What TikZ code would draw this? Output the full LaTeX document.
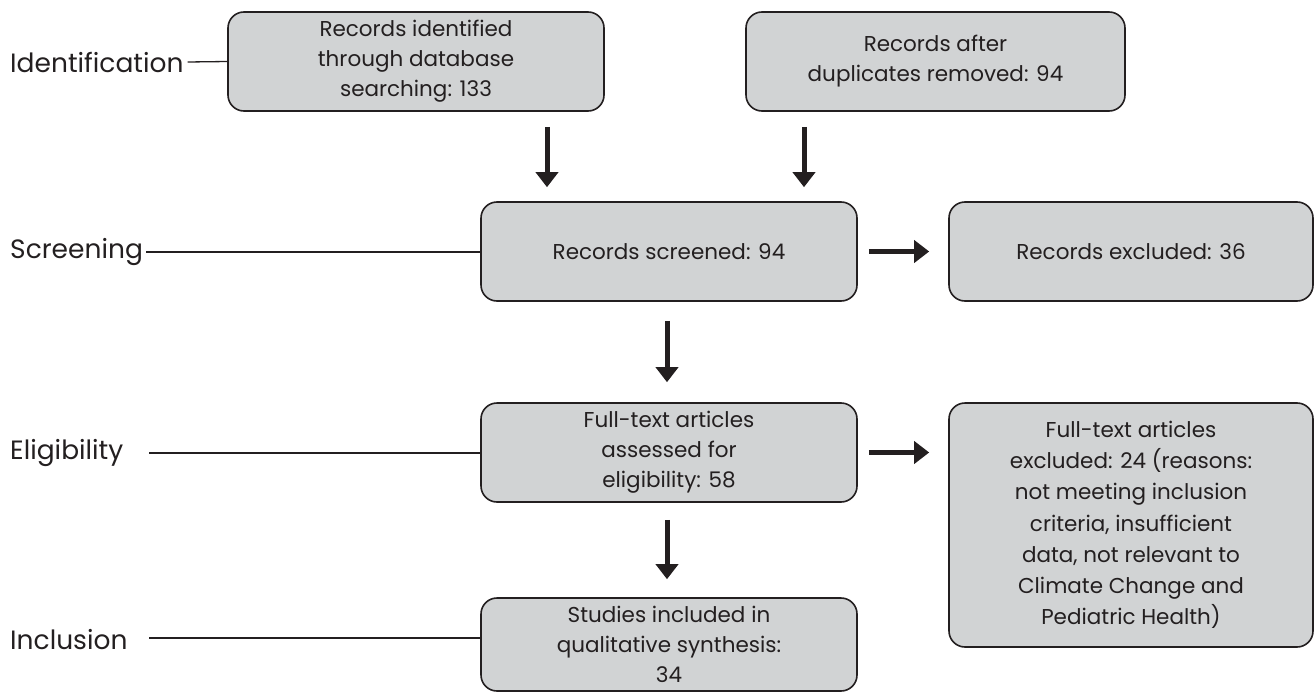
\documentclass[tikz,border=0pt]{standalone}
\usepackage{fontspec}
\setmainfont{Poppins}
\usetikzlibrary{arrows.meta}
\definecolor{ink}{HTML}{231F20}
\definecolor{boxfill}{HTML}{D1D3D4}
\tikzset{
  box/.style={draw=ink, fill=boxfill, line width=1.6pt, rounded corners=16pt,
    align=center, text=ink, inner sep=0pt, font=\fontsize{21.5}{30}\selectfont},
  lbl/.style={anchor=west, text=ink, inner sep=0pt, font=\fontsize{26.5}{30}\selectfont},
  lline/.style={draw=ink, line width=1.3pt},
  arr/.style={draw=ink, line width=5pt, -{Triangle[width=22pt,length=15pt]}}
}
\begin{document}
\begin{tikzpicture}[x=1pt,y=-1pt]
\useasboundingbox (0,0) rectangle (1315,693);
\node[box, minimum width=376pt, minimum height=99pt] (b1) at (416,61.5)
  {Records identified\\through database\\searching: 133};
\node[box, minimum width=379pt, minimum height=99pt] (b2) at (935.5,61.5)
  {Records after\\duplicates removed: 94};
\node[box, minimum width=376pt, minimum height=99pt] (b3) at (669,251.5)
  {Records screened: 94};
\node[box, minimum width=364pt, minimum height=99pt] (b4) at (1131,251.5)
  {Records excluded: 36};
\node[box, minimum width=376pt, minimum height=99pt] (b5) at (669,452.5)
  {Full-text articles\\assessed for\\eligibility: 58};
\node[box, minimum width=364pt, minimum height=244pt, font=\fontsize{21.5}{31.2}\selectfont] (b6) at (1131,525)
  {Full-text articles\\excluded: 24 (reasons:\\not meeting inclusion\\criteria, insufficient\\data, not relevant to\\Climate Change and\\Pediatric Health)};
\node[box, minimum width=376pt, minimum height=93pt] (b7) at (669,644.5)
  {Studies included in\\qualitative synthesis:\\34};

\node[lbl] (l1) at (10,62) {Identification};
\node[lbl] (l2) at (10,252) {Screening};
\node[lbl] (l3) at (10,453) {Eligibility};
\node[lbl] (l4) at (10,640) {Inclusion};
\coordinate (c3) at (149,453);
\coordinate (c4) at (149,638);
\draw[lline] (l1.east) ++(4pt,0) -- (b1.west);
\draw[lline] (l2.east) ++(3pt,0) -- (l2.east -| b3.west);
\draw[lline] (c3) -- (c3 -| b5.west);
\draw[lline] (c4) -- (c4 -| b7.west);

\draw[arr] ([xshift=131pt,yshift=-15pt]b1.south) -- ([xshift=-122pt,yshift=14pt]b3.north);
\draw[arr] ([xshift=-131.5pt,yshift=-15pt]b2.south) -- ([xshift=135pt,yshift=14pt]b3.north);
\draw[arr, shorten <=19pt, shorten >=20pt] ([xshift=-2pt]b3.south) -- ([xshift=-2pt]b5.north);
\draw[arr, shorten <=17pt, shorten >=18pt] ([xshift=-2pt]b5.south) -- ([xshift=-2pt]b7.north);
\draw[arr, shorten <=11pt, shorten >=19pt] (b3.east) -- (b4.west);
\draw[arr, shorten <=11pt, shorten >=19pt] (b5.east) -- (b5.east -| b6.west);
\end{tikzpicture}
\end{document}
